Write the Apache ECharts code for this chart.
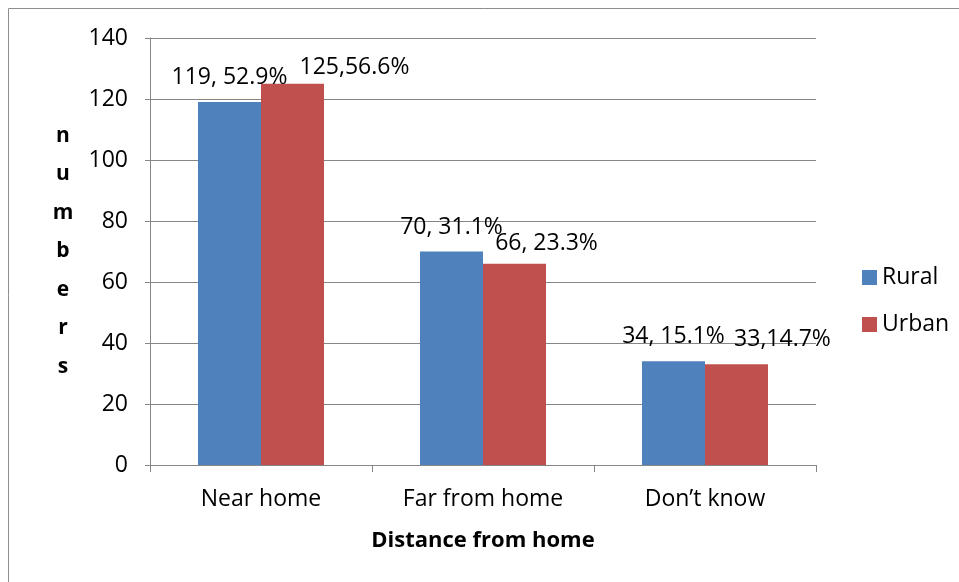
<!DOCTYPE html>
<html>
<head>
<meta charset="utf-8">
<script src="https://cdn.jsdelivr.net/npm/echarts@6/dist/echarts.min.js"></script>
<style>
html,body{margin:0;padding:0;background:#fff;}
#chart{width:959px;height:582px;}
</style>
</head>
<body>
<div id="chart"></div>
<script>
const categories = ['Near home', 'Far from home', 'Don\u2019t know'];
const seriesNames = ['Rural', 'Urban'];
const ruralValues = [119, 70, 34];
const urbanValues = [125, 66, 33];
const ruralLabels = ['119, 52.9%', '70, 31.1%', '34, 15.1%'];
const urbanLabels = ['125,56.6%', '66, 23.3%', '33,14.7%'];
const yTicks = { min: 0, max: 140, interval: 20 };
const xTitle = 'Distance from home';
const yTitle = 'numbers';

const FONT = 'Open Sans';
const GRAY = '#868686';
const urbanLabelOffsets = [[62, 8], [32, 4], [46, 0]];

function buildData(values, labels, offsets) {
  return values.map(function (v, i) {
    const item = { value: v, label: { formatter: labels[i] } };
    if (offsets) item.label.offset = offsets[i];
    return item;
  });
}

const chart = echarts.init(document.getElementById('chart'), null, { renderer: 'canvas' });
const option = {
  animation: false,
  backgroundColor: '#ffffff',
  textStyle: { fontFamily: FONT, color: '#000' },
  graphic: [{
    type: 'rect',
    shape: { x: 8.5, y: 8.5, width: 1000, height: 1000 },
    style: { fill: 'none', stroke: '#8e8e8e', lineWidth: 1 },
    silent: true
  }],
  grid: { left: 150, right: 143, top: 38, bottom: 117, containLabel: false },
  legend: {
    orient: 'vertical',
    left: 857,
    top: 261,
    itemWidth: 15,
    itemHeight: 15,
    itemGap: 24,
    icon: 'rect',
    data: seriesNames,
    textStyle: { fontFamily: FONT, fontSize: 23, color: '#000', padding: [0, 0, 0, 0] }
  },
  xAxis: {
    type: 'category',
    data: categories,
    boundaryGap: true,
    name: xTitle,
    nameLocation: 'middle',
    nameGap: 65,
    nameTextStyle: { fontFamily: FONT, fontSize: 22, fontWeight: 'bold', color: '#000' },
    axisLine: { show: true, lineStyle: { color: GRAY, width: 1 } },
    axisTick: { show: true, alignWithLabel: false, length: 7, lineStyle: { color: GRAY } },
    axisLabel: { fontFamily: FONT, fontSize: 23, color: '#000', margin: 23 },
    splitLine: { show: false }
  },
  yAxis: {
    type: 'value',
    min: yTicks.min,
    max: yTicks.max,
    interval: yTicks.interval,
    name: yTitle.split('').join('\n'),
    nameLocation: 'middle',
    nameRotate: 0,
    nameGap: 87,
    nameTextStyle: {
      fontFamily: FONT, fontSize: 21, fontWeight: 'bold', color: '#000',
      lineHeight: 38.5, align: 'center', verticalAlign: 'middle', padding: [20, 0, 0, 0]
    },
    axisLine: { show: true, lineStyle: { color: GRAY, width: 1 } },
    axisTick: { show: true, inside: false, length: 5, lineStyle: { color: GRAY } },
    axisLabel: { fontFamily: FONT, fontSize: 23, color: '#000', margin: 22 },
    splitLine: { show: true, lineStyle: { color: GRAY, width: 1 } }
  },
  series: [
    {
      name: seriesNames[0],
      type: 'bar',
      barWidth: 63,
      barGap: '0%',
      itemStyle: { color: '#4F81BD' },
      label: { show: true, position: 'top', distance: 13, fontFamily: FONT, fontSize: 23, color: '#000' },
      data: buildData(ruralValues, ruralLabels, null)
    },
    {
      name: seriesNames[1],
      type: 'bar',
      barWidth: 63,
      barGap: '0%',
      itemStyle: { color: '#C0504D' },
      label: { show: true, position: 'top', distance: 13, fontFamily: FONT, fontSize: 23, color: '#000' },
      data: buildData(urbanValues, urbanLabels, urbanLabelOffsets)
    }
  ]
};
chart.setOption(option);
</script>
</body>
</html>
